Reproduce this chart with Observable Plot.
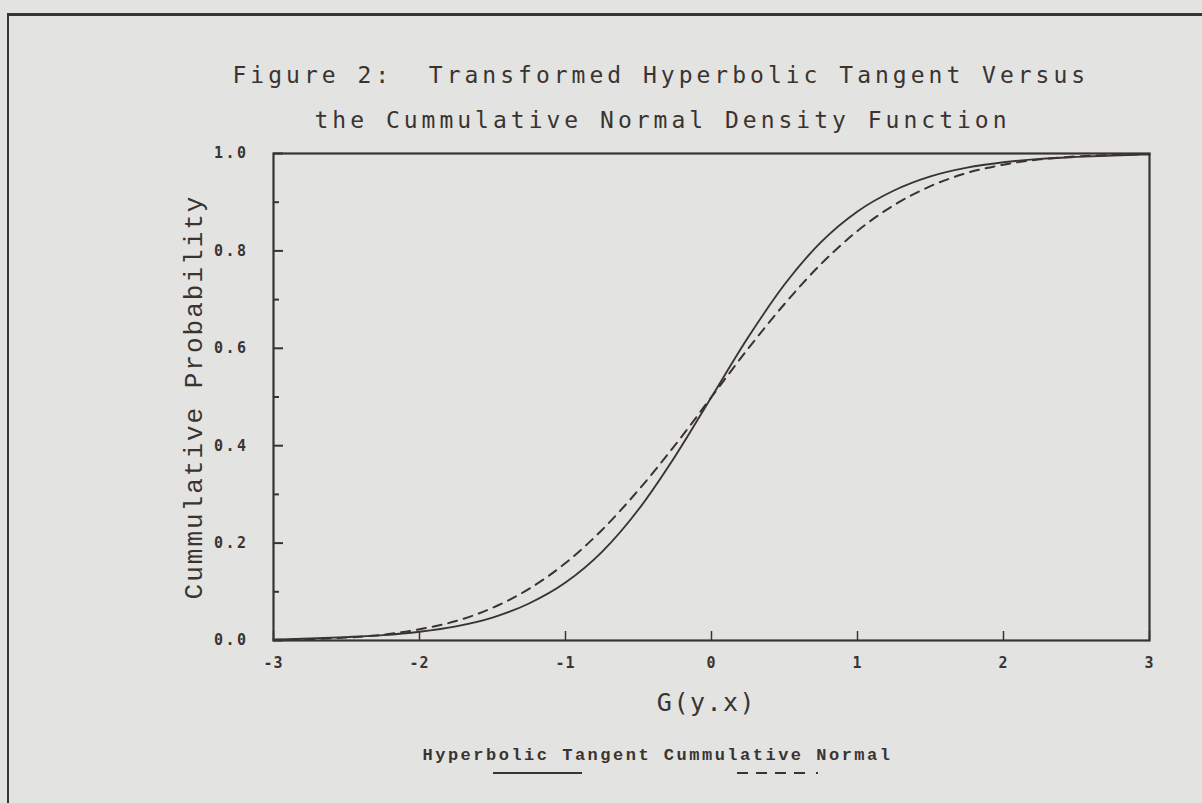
<!DOCTYPE html>
<html>
<head>
<meta charset="utf-8">
<script src="https://cdn.jsdelivr.net/npm/d3@7"></script>
<script src="https://cdn.jsdelivr.net/npm/@observablehq/plot@0.6"></script>
<style>
  html, body { margin: 0; padding: 0; background: #e3e3e1; overflow: hidden; }
  #page { position: relative; width: 1202px; height: 803px; background: #e3e3e1; }
  #border { position: absolute; left: 7px; top: 13px; width: 1220px; height: 820px;
            border-top: 3px solid #3a3431; border-left: 2px solid #3a3431; }
  #chart { position: absolute; left: 0; top: 0; }
</style>
</head>
<body>
<div id="page">
  <div id="border"></div>
  <div id="chart"></div>
</div>
<script>
const INK = "#3a3431";

// G(y.x) positions at which the curves were read
const gValues = [-3, -2.75, -2.5, -2.25, -2, -1.75, -1.5, -1.25, -1, -0.75, -0.5, -0.25, 0,
                 0.25, 0.5, 0.75, 1, 1.25, 1.5, 1.75, 2, 2.25, 2.5, 2.75, 3];
// Transformed hyperbolic tangent (solid)
const tanhProb = [0.002, 0.004, 0.007, 0.011, 0.018, 0.029, 0.047, 0.076, 0.119, 0.182, 0.269, 0.378, 0.5,
                  0.622, 0.731, 0.818, 0.881, 0.924, 0.953, 0.971, 0.982, 0.989, 0.993, 0.996, 0.998];
// Cumulative normal (dashed)
const normalProb = [0.001, 0.003, 0.006, 0.012, 0.023, 0.040, 0.067, 0.106, 0.159, 0.227, 0.309, 0.401, 0.5,
                    0.599, 0.691, 0.773, 0.841, 0.894, 0.933, 0.960, 0.977, 0.988, 0.994, 0.997, 0.999];

const xTicks = [-3, -2, -1, 0, 1, 2, 3];
const yMajorTicks = [0, 0.2, 0.4, 0.6, 0.8, 1.0];
const yMinorTicks = [0.1, 0.3, 0.5, 0.7, 0.9];

const titleLine1 = "Figure 2:\u00a0\u00a0Transformed Hyperbolic Tangent Versus";
const titleLine2 = "the Cummulative Normal Density Function";
const xLabel = "G(y.x)";
const yLabel = "Cummulative Probability";
const legendText = "Hyperbolic Tangent Cummulative Normal";

const tanhData = gValues.map((g, i) => ({g, p: tanhProb[i]}));
const normalData = gValues.map((g, i) => ({g, p: normalProb[i]}));

const plotterFont = {fontFamily: "DejaVu Sans Mono", fill: INK};

const chart = Plot.plot({
  width: 1202,
  height: 803,
  marginLeft: 273,
  marginRight: 53,
  marginTop: 153,
  marginBottom: 163,
  style: {background: "transparent", color: INK, overflow: "visible"},
  x: {domain: [-3, 3], label: null},
  y: {domain: [0, 1], label: null},
  marks: [
    Plot.axisY(yMinorTicks, {anchor: "left", tickSize: -6, tickPadding: 20, tickFormat: () => "", strokeWidth: 2, label: null}),
    Plot.axisY(yMajorTicks, {anchor: "left", tickSize: -10, tickPadding: 35, tickFormat: d3.format(".1f"), strokeWidth: 2, label: null}),
    Plot.axisX(xTicks, {anchor: "bottom", tickSize: -9, tickPadding: 26, strokeWidth: 1.5, label: null,
      tickFormat: d => d < 0 ? "-" + Math.abs(d) : String(d)}),
    Plot.line(normalData, {x: "g", y: "p", curve: "monotone-x", stroke: INK, strokeWidth: 2, strokeDasharray: "9,7"}),
    Plot.line(tanhData, {x: "g", y: "p", curve: "monotone-x", stroke: INK, strokeWidth: 1.9}),
    Plot.frame({stroke: INK, strokeWidth: 2.2}),
    Plot.text([titleLine1], {...plotterFont, fontSize: 23, frameAnchor: "top-left", textAnchor: "start", lineAnchor: "bottom", dx: -41, dy: -71}),
    Plot.text([titleLine2], {...plotterFont, fontSize: 23, frameAnchor: "top-left", textAnchor: "start", lineAnchor: "bottom", dx: 41, dy: -26}),
    Plot.text([xLabel], {...plotterFont, fontSize: 25, frameAnchor: "bottom", textAnchor: "middle", lineAnchor: "middle", dx: -5, dy: 62}),
    Plot.text([yLabel], {fontFamily: "Liberation Mono", fill: INK, fontSize: 26, frameAnchor: "left",
      textAnchor: "middle", lineAnchor: "middle", dx: -80, rotate: -90}),
    Plot.text([legendText], {fontFamily: "Liberation Mono", fontWeight: "bold", fill: INK, fontSize: 17,
      frameAnchor: "bottom-left", textAnchor: "start", lineAnchor: "middle", dx: 149, dy: 114})
  ]
});

// letter spacing of the typed/plotter lettering
const spacing = new Map([[titleLine1, 4], [titleLine2, 4], [xLabel, 1.5], [yLabel, 2], [legendText, 2.5]]);
const svg = d3.select(chart);
svg.selectAll("text").each(function () {
  const s = spacing.get(this.textContent);
  if (s != null) this.style.letterSpacing = s + "px";
});
svg.selectAll('g[aria-label="y-axis tick label"] text')
  .style("font-family", "DejaVu Sans Mono").style("font-size", "15px").style("font-weight", "bold")
  .style("letter-spacing", "2.5px");
svg.selectAll('g[aria-label="x-axis tick label"] text')
  .style("font-family", "DejaVu Sans Mono").style("font-size", "15px").style("font-weight", "bold")
  .style("letter-spacing", "1px");

// legend swatches below the legend labels
const sw = svg.append("g").attr("aria-label", "legend swatches").attr("stroke", INK).attr("stroke-width", 2.2);
sw.append("line").attr("x1", 493).attr("x2", 582).attr("y1", 773).attr("y2", 773);
sw.append("line").attr("x1", 737).attr("x2", 825).attr("y1", 773).attr("y2", 773)
  .attr("stroke-dasharray", "11,8,11,8,11,8,11,11,2,100");

document.getElementById("chart").appendChild(chart);
</script>
</body>
</html>
